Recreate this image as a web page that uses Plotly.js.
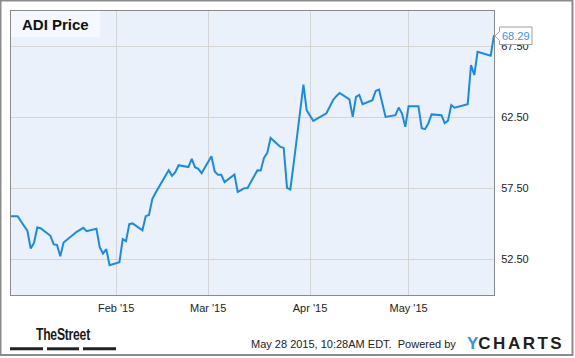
<!DOCTYPE html>
<html>
<head>
<meta charset="utf-8">
<script src="https://cdn.plot.ly/plotly-3.0.1.min.js"></script>
<style>
html,body{margin:0;padding:0;background:#fff;}
#chart{width:575px;height:358px;}
g.annotation[data-index="2"] text{transform:scaleX(0.76);transform-box:fill-box;transform-origin:center;letter-spacing:-0.3px;}
</style>
</head>
<body>
<div id="chart"></div>
<script>
// ---- data ----
var dates = [
"2014-12-31","2015-01-02","2015-01-05","2015-01-06","2015-01-07","2015-01-08","2015-01-09",
"2015-01-12","2015-01-13","2015-01-14","2015-01-15","2015-01-16",
"2015-01-20","2015-01-21","2015-01-22","2015-01-23",
"2015-01-26","2015-01-27","2015-01-28","2015-01-29","2015-01-30",
"2015-02-02","2015-02-03","2015-02-04","2015-02-05","2015-02-06",
"2015-02-09","2015-02-10","2015-02-11","2015-02-12","2015-02-13",
"2015-02-17","2015-02-18","2015-02-19","2015-02-20",
"2015-02-23","2015-02-24","2015-02-25","2015-02-26","2015-02-27",
"2015-03-02","2015-03-03","2015-03-04","2015-03-05","2015-03-06",
"2015-03-09","2015-03-10","2015-03-11","2015-03-12","2015-03-13",
"2015-03-16","2015-03-17","2015-03-18","2015-03-19","2015-03-20",
"2015-03-23","2015-03-24","2015-03-25","2015-03-26","2015-03-27",
"2015-03-30","2015-03-31","2015-04-01","2015-04-02",
"2015-04-06","2015-04-07","2015-04-08","2015-04-09","2015-04-10",
"2015-04-13","2015-04-14","2015-04-15","2015-04-16","2015-04-17",
"2015-04-20","2015-04-21","2015-04-22","2015-04-23","2015-04-24",
"2015-04-27","2015-04-28","2015-04-29","2015-04-30","2015-05-01",
"2015-05-04","2015-05-05","2015-05-06","2015-05-07","2015-05-08",
"2015-05-11","2015-05-12","2015-05-13","2015-05-14","2015-05-15",
"2015-05-18","2015-05-19","2015-05-20","2015-05-21","2015-05-22",
"2015-05-26","2015-05-27"
];
var prices = [
55.55,55.55,54.51,53.27,53.67,54.75,54.70,
54.17,53.56,53.53,52.73,53.70,
54.45,54.62,54.73,54.49,
54.66,53.37,52.92,53.23,52.10,
52.31,53.93,53.79,54.99,55.04,
54.56,55.55,55.64,56.75,57.20,
58.79,58.39,58.65,59.14,
59.01,59.59,59.00,58.88,58.58,
59.77,58.70,58.46,58.46,57.95,
58.49,57.26,57.38,57.52,57.54,
58.79,58.77,59.66,60.01,61.06,
60.43,60.36,57.54,57.43,59.20,
64.82,63.00,62.60,62.26,
62.80,63.25,63.72,64.00,64.23,
63.77,62.54,63.95,64.09,63.44,
63.72,64.37,64.47,63.50,62.54,
62.66,63.20,62.78,61.84,63.30,
63.30,61.75,61.68,62.08,62.72,
62.66,62.10,62.28,63.38,63.19,
63.35,63.44,66.19,65.49,67.13,
66.85,68.29
];
var xTickVals = ["2015-02-01","2015-03-01","2015-04-01","2015-05-01"];
var xTickText = ["Feb '15","Mar '15","Apr '15","May '15"];
var yTickVals = [52.5,57.5,62.5,67.5];
var seriesName = "ADI Price";
var footerText = "May 28 2015, 10:28AM EDT.  Powered by";

// ---- layout helpers (pixel -> paper) ----
var ML=11, MR=81, MT=11, MB=63, W=575, H=358;
var PW=W-ML-MR, PH=H-MT-MB;
function X(px){return (px-ML)/PW;}
function Y(py){return (H-MB-py)/PH;}
function P(pts){return 'M'+pts.map(function(p){return X(p[0])+','+Y(p[1]);}).join('L')+'Z';}

var lastVal = prices[prices.length-1];
var font = "'Liberation Sans', Arial, sans-serif";

var trace = {
  x: dates, y: prices, type:'scatter', mode:'lines',
  line:{color:'#1b8ae6', width:2}, hoverinfo:'x+y', showlegend:false
};

var layout = {
  width:W, height:H,
  margin:{l:ML, r:MR, t:MT, b:MB, pad:0},
  paper_bgcolor:'#ffffff', plot_bgcolor:'#eaf1fb',
  font:{family:font, size:11, color:'#222'},
  xaxis:{
    type:'date', range:['2014-12-31','2015-05-27'],
    tickmode:'array', tickvals:xTickVals, ticktext:xTickText,
    showgrid:true, gridcolor:'#d4d4d4', gridwidth:1,
    showline:true, linecolor:'#8a8a8a', linewidth:1, mirror:true,
    ticks:'', zeroline:false, fixedrange:true,
    tickfont:{family:font, size:11, color:'#222'}, ticklabelstandoff:3
  },
  yaxis:{
    range:[50,70], side:'right',
    tickmode:'array', tickvals:yTickVals, tickformat:'.2f',
    showgrid:true, gridcolor:'#d4d4d4', gridwidth:1,
    showline:true, linecolor:'#8a8a8a', linewidth:1, mirror:true,
    ticks:'', zeroline:false, fixedrange:true,
    tickfont:{family:font, size:11, color:'#222'}, ticklabelstandoff:4
  },
  shapes:[
    {type:'rect', xref:'paper', yref:'paper', x0:X(0.5), x1:X(572.5), y0:Y(0.5), y1:Y(355),
     line:{color:'#8c8c8c', width:2}, fillcolor:'rgba(0,0,0,0)', layer:'above'},
    {type:'rect', xref:'paper', yref:'paper', x0:X(11), x1:X(100), y0:Y(11), y1:Y(37),
     line:{width:0}, fillcolor:'#f5f8fe', layer:'above'},
    {type:'path', xref:'paper', yref:'paper',
     path:P([[499.5,27],[532,27],[532,44.5],[499.5,44.5],[499.5,40.5],[494.8,36],[499.5,31.5]]),
     line:{color:'#a0a0a0', width:1}, fillcolor:'#ffffff', layer:'above'},
    {type:'rect', xref:'paper', yref:'paper', x0:X(10), x1:X(43), y0:Y(347.3), y1:Y(350.3),
     line:{width:0}, fillcolor:'#222222', layer:'above'},
    {type:'rect', xref:'paper', yref:'paper', x0:X(47), x1:X(79), y0:Y(347.3), y1:Y(350.3),
     line:{width:0}, fillcolor:'#222222', layer:'above'},
    {type:'rect', xref:'paper', yref:'paper', x0:X(83), x1:X(116), y0:Y(347.3), y1:Y(350.3),
     line:{width:0}, fillcolor:'#222222', layer:'above'}
  ],
  annotations:[
    {text:seriesName, xref:'paper', yref:'paper', x:X(20), y:Y(24), xanchor:'left', yanchor:'middle',
     showarrow:false, font:{family:font, size:15, color:'#111', weight:'bold'}},
    {text:lastVal.toFixed(2), xref:'paper', yref:'paper', x:X(515.8), y:Y(35.8), xanchor:'center', yanchor:'middle',
     showarrow:false, font:{family:font, size:11, color:'#3a8fe3'}},
    {text:'TheStreet', xref:'paper', yref:'paper', x:X(63), y:Y(334.5), xanchor:'center', yanchor:'middle',
     showarrow:false, font:{family:"'Liberation Sans Narrow','Liberation Sans',sans-serif", size:16, color:'#1a1a1a', weight:'bold'}},
    {text:footerText, xref:'paper', yref:'paper', x:X(458), y:Y(344), xanchor:'right', yanchor:'middle',
     showarrow:false, font:{family:font, size:11, color:'#222'}},
    {text:'<span style="color:#3a8fe6">Y</span><span style="letter-spacing:2.5px">CHARTS</span>',
     xref:'paper', yref:'paper', x:X(464.5), y:Y(344), xanchor:'left', yanchor:'middle',
     showarrow:false, font:{family:font, size:17, color:'#1e1e1e', weight:'bold'}}
  ]
};

Plotly.newPlot('chart', [trace], layout, {displayModeBar:false, staticPlot:true});
</script>
</body>
</html>
